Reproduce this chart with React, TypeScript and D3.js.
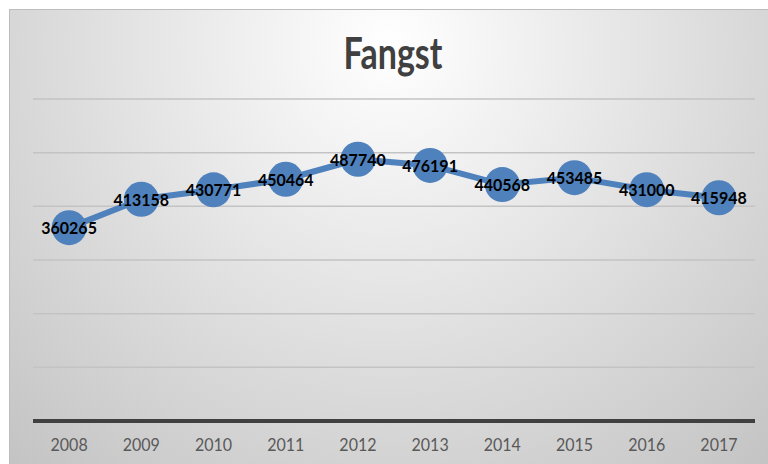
import React from "react";
import * as d3 from "d3";

const years = ["2008", "2009", "2010", "2011", "2012", "2013", "2014", "2015", "2016", "2017"];
const fangst = [360265, 413158, 430771, 450464, 487740, 476191, 440568, 453485, 431000, 415948];
const gridValues = [100000, 200000, 300000, 400000, 500000, 600000];

const W = 768;
const H = 464;

const App = () => {
  const margin = { top: 99, right: 13, bottom: 43, left: 33 };

  // x: one band per year, points in the middle of each band
  const x = d3
    .scalePoint<string>()
    .domain(years)
    .range([margin.left, W - margin.right])
    .padding(0.5);

  const y = d3
    .scaleLinear()
    .domain([0, 600000])
    .range([H - margin.bottom, margin.top]);

  const line = d3
    .line<number>()
    .x((d, i) => x(years[i]) as number)
    .y((d) => y(d));

  const font = "Lato, 'Noto Sans', sans-serif";

  return (
    <svg
      width={W}
      height={H}
      style={{ position: "absolute", left: 0, top: 0, display: "block" }}
    >
      <defs>
        <radialGradient id="bg" gradientUnits="userSpaceOnUse" cx={390} cy={45} r={600}>
          <stop offset="0" stopColor="#ffffff" />
          <stop offset="0.55" stopColor="#dcdcdc" />
          <stop offset="1" stopColor="#c0c0c0" />
        </radialGradient>
      </defs>
      <rect x={0} y={0} width={W} height={H} fill="#ffffff" />
      <rect x={9.5} y={9.5} width={W + 20} height={H + 20} fill="url(#bg)" stroke="#bdbdbd" strokeWidth={1} />

      {/* title */}
      <text
        x={0}
        y={0}
        transform={`translate(393, 69) scale(1, 1.3)`}
        textAnchor="middle"
        fontFamily={font}
        fontWeight={700}
        fontSize={34}
        fill="#404040"
      >
        Fangst
      </text>

      {/* gridlines */}
      {gridValues.map((v) => (
        <line
          key={v}
          x1={margin.left}
          x2={W - margin.right}
          y1={y(v)}
          y2={y(v)}
          stroke="#c3c3c3"
          strokeWidth={1.5}
        />
      ))}

      {/* baseline axis */}
      <line
        x1={margin.left}
        x2={W - margin.right}
        y1={y(0)}
        y2={y(0)}
        stroke="#404040"
        strokeWidth={4}
      />

      {years.map((yr) => (
        <text
          key={yr}
          x={0}
          y={0}
          transform={`translate(${x(yr)}, ${y(0) + 30}) scale(1, 1.08)`}
          textAnchor="middle"
          fontFamily={font}
          fontSize={16}
          fill="#595959"
        >
          {yr}
        </text>
      ))}

      {/* series */}
      <path d={line(fangst) || ""} fill="none" stroke="#4f81bd" strokeWidth={6} strokeLinejoin="round" />
      {fangst.map((v, i) => (
        <circle key={"c" + i} cx={x(years[i])} cy={y(v)} r={17.5} fill="#4f81bd" />
      ))}
      {fangst.map((v, i) => (
        <text
          key={"t" + i}
          x={0}
          y={0}
          transform={`translate(${x(years[i])}, ${y(v)}) scale(1, 1.12)`}
          dy="0.36em"
          textAnchor="middle"
          fontFamily={font}
          fontWeight={700}
          fontSize={16}
          fill="#000000"
        >
          {v}
        </text>
      ))}
    </svg>
  );
};

export default App;
